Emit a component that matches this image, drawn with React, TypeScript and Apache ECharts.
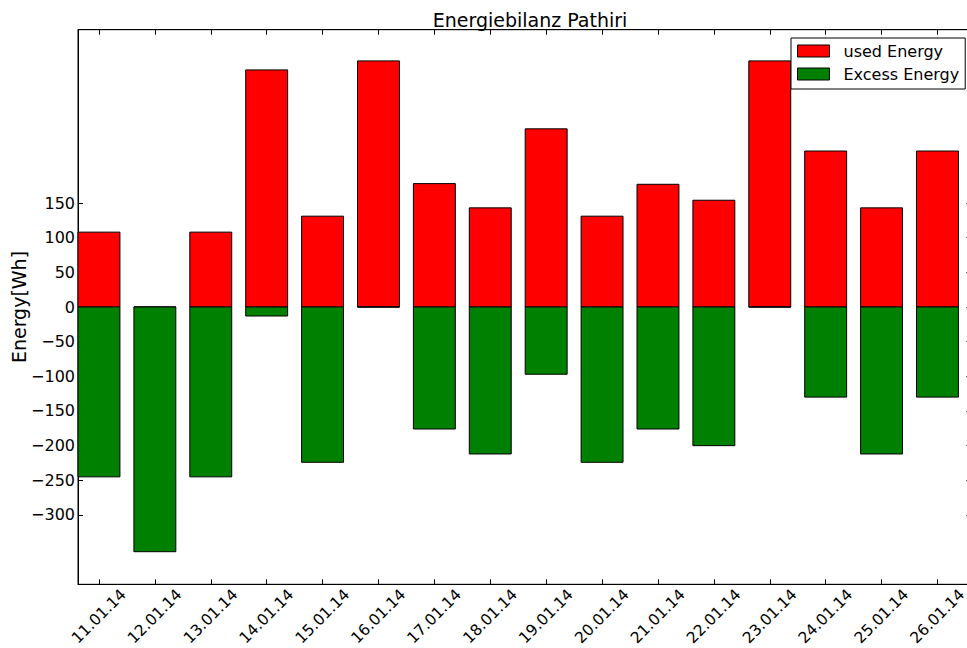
import React, { useEffect, useRef } from "react";
import * as echarts from "echarts";

const dates = [
  "11.01.14", "12.01.14", "13.01.14", "14.01.14", "15.01.14", "16.01.14",
  "17.01.14", "18.01.14", "19.01.14", "20.01.14", "21.01.14", "22.01.14",
  "23.01.14", "24.01.14", "25.01.14", "26.01.14",
];
const usedEnergy = [108, 0, 108, 342, 131, 355, 178, 143, 257, 131, 177, 154, 355, 225, 143, 225];
const excessEnergy = [-245, -353, -245, -13, -224, 0, -176, -212, -97, -224, -176, -200, 0, -130, -212, -130];
const yTicks = [-300, -250, -200, -150, -100, -50, 0, 50, 100, 150];

const FONT = "DejaVu Sans";
const BAR_W = 0.75;

export default function App() {
  const ref = useRef<HTMLDivElement>(null);
  useEffect(() => {
    if (!ref.current) return;
    const chart = echarts.init(ref.current, null, { renderer: "svg" });
    const xPos = dates.map((_, i) => i + BAR_W / 2);
    const makeRender = (color: string) => (params: any, api: any) => {
      const x = api.value(0);
      const y = api.value(1);
      const p0 = api.coord([x - BAR_W / 2, 0]);
      const p1 = api.coord([x + BAR_W / 2, y]);
      return {
        type: "rect",
        shape: {
          x: p0[0],
          y: Math.min(p0[1], p1[1]),
          width: p1[0] - p0[0],
          height: Math.abs(p1[1] - p0[1]),
        },
        style: { fill: color, stroke: "#000", lineWidth: 1 },
      };
    };
    const minus = (v: number) => String(v).replace("-", "\u2212");
    const lineStyle = { color: "#000", width: 1 };
    chart.setOption({
      animation: false,
      backgroundColor: "#fff",
      title: {
        text: "Energiebilanz Pathiri",
        left: 525,
        textAlign: "center",
        top: 5,
        textStyle: { fontFamily: FONT, fontSize: 19, fontWeight: "normal", color: "#000" },
      },
      legend: {
        orient: "vertical",
        left: 791,
        top: 38,
        padding: [5, 6, 7, 6],
        itemWidth: 32,
        itemHeight: 12,
        itemGap: 7,
        borderColor: "#000",
        borderWidth: 1,
        borderRadius: 0,
        backgroundColor: "#fff",
        icon: "rect",
        itemStyle: { borderColor: "#000", borderWidth: 1 },
        textStyle: { fontFamily: FONT, fontSize: 16, color: "#000", padding: [0, 0, 0, 9], lineHeight: 16 },
        data: ["used Energy", "Excess Energy"],
      },
      grid: {
        left: 78,
        top: 29.7,
        right: 2.6,
        bottom: 63.7,
        outerBoundsMode: "none",
        containLabel: false,
        show: true,
        borderColor: "#000",
        borderWidth: 1,
        backgroundColor: "transparent",
      },
      xAxis: [
        {
          type: "value",
          min: 0,
          max: 16,
          axisLine: { show: true, onZero: false, lineStyle },
          axisTick: { show: true, inside: true, length: 5, customValues: xPos, lineStyle },
          axisLabel: {
            customValues: xPos,
            rotate: 45,
            align: "center",
            verticalAlign: "middle",
            margin: 32,
            fontFamily: FONT,
            fontSize: 15.5,
            color: "#000",
            formatter: (v: number) => dates[Math.round(v - BAR_W / 2)] ?? "",
          },
          splitLine: { show: false },
        },
        {
          type: "value",
          position: "top",
          min: 0,
          max: 16,
          axisLine: { show: true, onZero: false, lineStyle },
          axisTick: { show: true, inside: true, length: 5, customValues: xPos, lineStyle },
          axisLabel: { show: false },
          splitLine: { show: false },
        },
      ],
      yAxis: [
        {
          type: "value",
          min: -400,
          max: 400,
          name: "Energy[Wh]",
          nameLocation: "middle",
          nameGap: 50,
          nameMoveOverlap: false,
          nameTextStyle: { fontFamily: FONT, fontSize: 19, color: "#000" },
          axisLine: { show: true, onZero: false, lineStyle },
          axisTick: { show: true, inside: true, length: 5, customValues: yTicks, lineStyle },
          axisLabel: {
            customValues: yTicks,
            margin: 3,
            fontFamily: FONT,
            fontSize: 16,
            color: "#000",
            formatter: (v: number) => minus(v),
          },
          splitLine: { show: false },
        },
        {
          type: "value",
          position: "right",
          min: -400,
          max: 400,
          axisLine: { show: true, onZero: false, lineStyle },
          axisTick: { show: true, inside: true, length: 6, customValues: yTicks, lineStyle },
          axisLabel: { show: false },
          splitLine: { show: false },
        },
      ],
      series: [
        {
          name: "used Energy",
          type: "custom",
          xAxisIndex: 0,
          yAxisIndex: 0,
          itemStyle: { color: "#ff0000", borderColor: "#000", borderWidth: 1 },
          encode: { x: 0, y: 1 },
          renderItem: makeRender("#ff0000"),
          data: xPos.map((x, i) => [x, usedEnergy[i]]),
        },
        {
          name: "Excess Energy",
          type: "custom",
          xAxisIndex: 0,
          yAxisIndex: 0,
          itemStyle: { color: "#008000", borderColor: "#000", borderWidth: 1 },
          encode: { x: 0, y: 1 },
          renderItem: makeRender("#008000"),
          data: xPos.map((x, i) => [x, excessEnergy[i]]),
        },
      ],
    });
    return () => chart.dispose();
  }, []);
  return (
    <div style={{ position: "fixed", left: 0, top: 0, width: 967, height: 648, overflow: "hidden", background: "#fff" }}>
      <div ref={ref} style={{ width: 975, height: 648 }} />
    </div>
  );
}
